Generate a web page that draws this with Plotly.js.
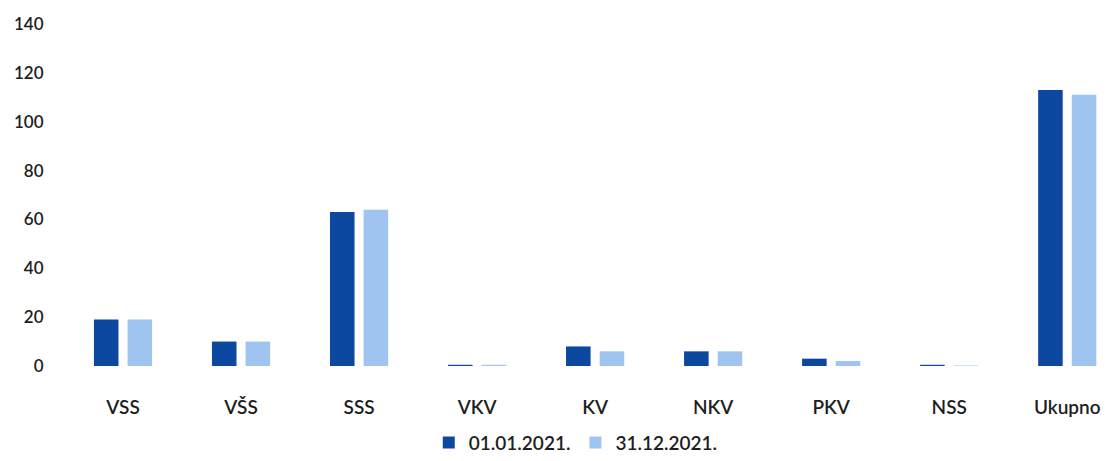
<!DOCTYPE html>
<html>
<head>
<meta charset="utf-8">
<script src="https://cdn.plot.ly/plotly-3.0.1.min.js"></script>
<style>html,body{margin:0;padding:0;background:#fff;}#chart{width:1118px;height:461px;}</style>
</head>
<body>
<div id="chart"></div>
<script>
const categories = ["VSS", "VŠS", "SSS", "VKV", "KV", "NKV", "PKV", "NSS", "Ukupno"];
const seriesNames = ["01.01.2021.", "31.12.2021."];
const values2021start = [19, 10, 63, 0.5, 8, 6, 3, 0.5, 113];
const values2021end = [19, 10, 64, 0.5, 6, 6, 2, 0.2, 111];
const yTicks = [0, 20, 40, 60, 80, 100, 120, 140];

const fam = "Lato, 'Open Sans', sans-serif";
const xFont = {family: fam, size: 19, color: "#1e1e1e", weight: 600};
const yFont = {family: fam, size: 17, color: "#1e1e1e", weight: 600};

const data = [
  {type: "bar", name: seriesNames[0], x: categories, y: values2021start, marker: {color: "#0c48a0"}},
  {type: "bar", name: seriesNames[1], x: categories, y: values2021end, marker: {color: "#9ec4ef"}}
];

const layout = {
  width: 1118, height: 461,
  margin: {l: 64, r: 0, t: 24, b: 95},
  paper_bgcolor: "#ffffff", plot_bgcolor: "#ffffff",
  barmode: "group", bargap: 0.43, bargroupgap: 0.27,
  font: xFont,
  showlegend: true,
  legend: {orientation: "h", x: 0.515, xref: "container", xanchor: "center", y: 0.04, yref: "container", yanchor: "middle",
           font: {family: fam, size: 19, color: "#1e1e1e", weight: 600}, itemwidth: 30, traceorder: "normal"},
  xaxis: {range: [-0.5, 8.43], automargin: false, showgrid: false, zeroline: false, showline: false,
          ticks: "outside", ticklen: 24, tickcolor: "rgba(0,0,0,0)", tickfont: xFont},
  yaxis: {range: [0, 140], automargin: false, tickvals: yTicks, ticktext: yTicks.map(String), showgrid: false, zeroline: false, showline: false,
          ticks: "outside", ticklen: 16, tickcolor: "rgba(0,0,0,0)", tickfont: yFont}
};

Plotly.newPlot("chart", data, layout, {displayModeBar: false, staticPlot: true});
</script>
</body>
</html>
